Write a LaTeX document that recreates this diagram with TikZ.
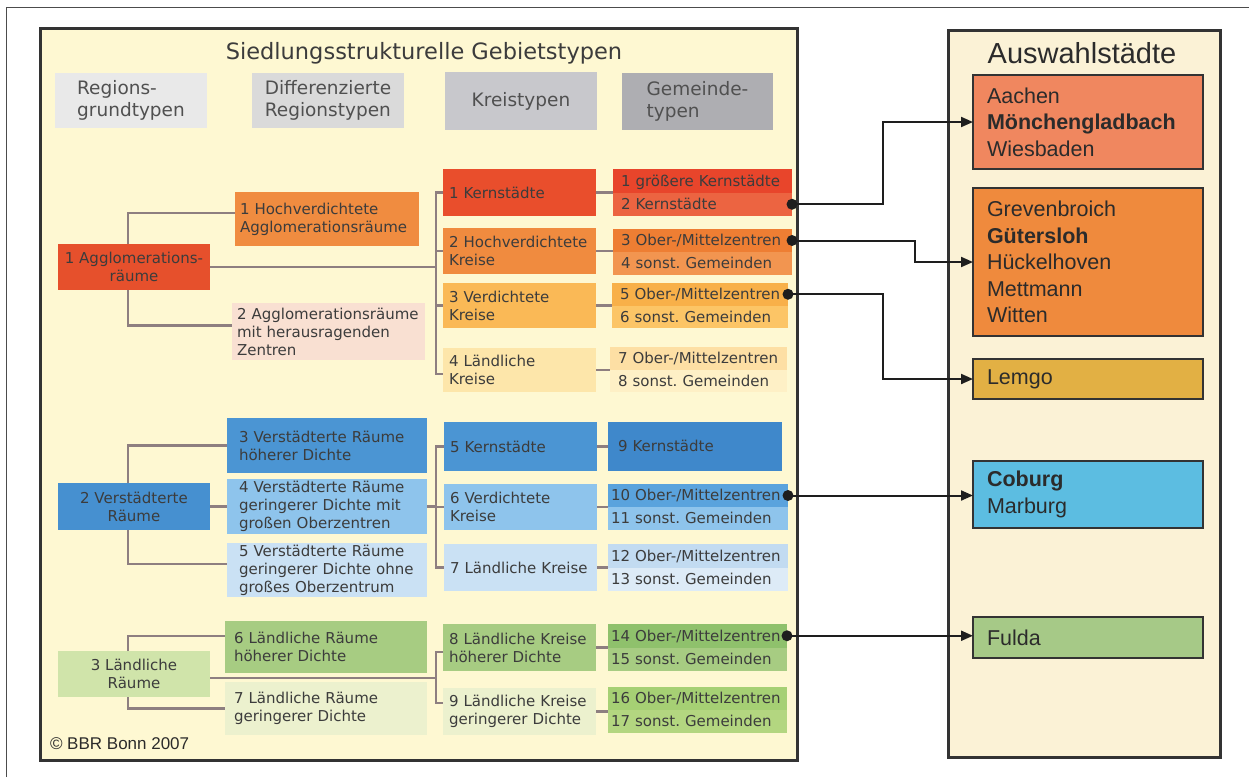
\documentclass[tikz,border=0pt]{standalone}
\usepackage{fontspec}
\newfontfamily\lf{DejaVu Sans}
\newfontfamily\rf{Liberation Sans}
\usetikzlibrary{arrows.meta,calc}
\definecolor{panL}{HTML}{FEF8D2}
\definecolor{panR}{HTML}{FBF2D6}
\definecolor{frameC}{HTML}{333333}
\definecolor{txtL}{HTML}{3C3C3C}
\definecolor{txtR}{HTML}{2B2B2B}
\definecolor{hdrT}{HTML}{505050}
\definecolor{lnC}{HTML}{8E7F80}
\definecolor{arC}{HTML}{1E1E1E}
\definecolor{h1}{HTML}{E9E9E9}
\definecolor{h2}{HTML}{DADADA}
\definecolor{h3}{HTML}{C8C8CC}
\definecolor{h4}{HTML}{AEAEB2}
\definecolor{cA1}{HTML}{E6502C}
\definecolor{cR1}{HTML}{F08C40}
\definecolor{cR2}{HTML}{F9E0D2}
\definecolor{cK1}{HTML}{E94E2C}
\definecolor{cG1a}{HTML}{E8452B}
\definecolor{cG1b}{HTML}{EC6441}
\definecolor{cK2}{HTML}{F08B3F}
\definecolor{cG2a}{HTML}{EE7E33}
\definecolor{cG2b}{HTML}{F29550}
\definecolor{cK3}{HTML}{FAB956}
\definecolor{cG3a}{HTML}{F8B049}
\definecolor{cG3b}{HTML}{FCC566}
\definecolor{cK4}{HTML}{FDE6AA}
\definecolor{cG4a}{HTML}{FDDFA4}
\definecolor{cG4b}{HTML}{FEF0C6}
\definecolor{cA2}{HTML}{4690D0}
\definecolor{cB1}{HTML}{4B95D3}
\definecolor{cG9}{HTML}{3F88CB}
\definecolor{cB2}{HTML}{8EC4EC}
\definecolor{cG10a}{HTML}{5AA3DD}
\definecolor{cB3}{HTML}{CAE1F4}
\definecolor{cG12a}{HTML}{C2DBF1}
\definecolor{cG12b}{HTML}{DDEBF7}
\definecolor{cA3}{HTML}{D0E4AA}
\definecolor{cV1}{HTML}{A7CC82}
\definecolor{cV2}{HTML}{ECF1CE}
\definecolor{cG14a}{HTML}{8FC16C}
\definecolor{cG16a}{HTML}{A6D074}
\definecolor{cG16b}{HTML}{B3D680}
\definecolor{cAach}{HTML}{F0875F}
\definecolor{cGrev}{HTML}{EF8A3D}
\definecolor{cLem}{HTML}{E2B044}
\definecolor{cCob}{HTML}{5CBDE1}
\definecolor{cFul}{HTML}{A6C987}
\begin{document}
\frenchspacing
\begin{tikzpicture}[x=1pt,y=-1pt,
  every node/.style={inner sep=0pt, outer sep=0pt},
  lb/.style={anchor=north west, inner ysep=0pt, align=left, text=txtL,
    font=\lf\fontsize{15}{18}\selectfont},
  stripe/.style={lb, text height=12pt, text depth=1.5pt},
  cb/.style={anchor=north west, align=center, text=txtL,
    font=\lf\fontsize{15}{18}\selectfont, minimum width=152pt},
  hdr/.style={anchor=north west, align=left, text=hdrT,
    font=\lf\fontsize{18.5}{21.5}\selectfont, minimum width=152pt},
  rb/.style={anchor=north west, inner ysep=0pt, inner xsep=14pt, text width=202pt,
    align=left, text=txtR, font=\rf\fontsize{21.5}{26.5}\selectfont,
    draw=frameC, line width=2.5pt},
  conn/.style={draw=lnC, line width=2.3pt},
  arr/.style={draw=arC, line width=2pt, -{Triangle[length=12pt,width=10pt]}},
  dotc/.style={fill=arC}
]
\useasboundingbox (0,0) rectangle (1249,777);
\fill[white] (0,0) rectangle (1249,777);
\draw[gray!60!black, line width=0.8pt] (6,777) -- (6,7) -- (1249,7);

% panels
\draw[fill=panL, draw=frameC, line width=3pt] (40,28) rectangle (797,760);
\draw[fill=panR, draw=frameC, line width=3pt] (948,30) rectangle (1220,757);

% titles
\node[text=txtL, font=\lf\fontsize{22.5}{26}\selectfont] (title) at (424,53) {Siedlungsstrukturelle Gebietstypen};
\node[text=txtR, font=\rf\fontsize{29}{34}\selectfont] (titleR) at (1082,53) {Auswahlstädte};

% headers
\node[hdr, fill=h1, minimum height=55pt] (hd1) at (55,73) {Regions-\\grundtypen};
\node[hdr, fill=h2, minimum height=55pt] (hd2) at (252,73) {Differenzierte\\Regionstypen};
\node[hdr, fill=h3, minimum height=58pt, minimum width=152pt] (hd3) at (445,72) {Kreistypen};
\node[hdr, fill=h4, minimum height=57pt, minimum width=151pt] (hd4) at (622,73) {Gemeinde-\\typen};

% column 1
\node[cb, fill=cA1, minimum height=46pt] (a1) at (58,244) {1 Agglomerations-\\räume};
\node[cb, fill=cA2, minimum height=47pt] (a2) at (58,483) {2 Verstädterte\\Räume};
\node[cb, fill=cA3, minimum height=46pt] (a3) at (58,651) {3 Ländliche\\Räume};

% column 2
\node[lb, fill=cR1, inner xsep=5pt, text width=174pt, minimum height=54pt] (r1) at (235,192) {1 Hochverdichtete\\Agglomerationsräume};
\node[lb, fill=cR2, inner xsep=5pt, text width=183pt, minimum height=57pt] (r2) at (232,303) {\mbox{2 Agglomerationsräume}\\mit herausragenden\\Zentren};
\node[lb, fill=cB1, inner xsep=12pt, text width=176pt, minimum height=55pt] (r3) at (227,418) {3 Verstädterte Räume\\höherer Dichte};
\node[lb, fill=cB2, inner xsep=12pt, text width=176pt, minimum height=55pt] (r4) at (227,479) {4 Verstädterte Räume\\\mbox{geringerer Dichte mit}\\großen Oberzentren};
\node[lb, fill=cB3, inner xsep=12pt, text width=176pt, minimum height=54pt] (r5) at (227,543) {5 Verstädterte Räume\\\mbox{geringerer Dichte ohne}\\großes Oberzentrum};
\node[lb, fill=cV1, inner xsep=9pt, text width=184pt, minimum height=52pt] (r6) at (225,621) {6 Ländliche Räume\\höherer Dichte};
\node[lb, fill=cV2, inner xsep=9pt, text width=184pt, minimum height=53pt] (r7) at (225,682) {7 Ländliche Räume\\geringerer Dichte};

% column 3
\node[lb, fill=cK1, inner xsep=6pt, text width=141pt, minimum height=47pt] (k1) at (443,169) {1 Kernstädte};
\node[lb, fill=cK2, inner xsep=6pt, text width=141pt, minimum height=46pt] (k2) at (443,228) {\mbox{2 Hochverdichtete}\\Kreise};
\node[lb, fill=cK3, inner xsep=6pt, text width=141pt, minimum height=45pt] (k3) at (443,283) {3 Verdichtete\\Kreise};
\node[lb, fill=cK4, inner xsep=6pt, text width=141pt, minimum height=44pt] (k4) at (443,348) {4 Ländliche\\Kreise};
\node[lb, fill=cB1, inner xsep=6pt, text width=141pt, minimum height=49pt] (k5) at (444,422) {5 Kernstädte};
\node[lb, fill=cB2, inner xsep=6pt, text width=141pt, minimum height=46pt] (k6) at (444,484) {6 Verdichtete\\Kreise};
\node[lb, fill=cB3, inner xsep=6pt, text width=141pt, minimum height=47pt] (k7) at (444,544) {\mbox{7 Ländliche Kreise}};
\node[lb, fill=cV1, inner xsep=6pt, text width=141pt, minimum height=47pt] (k8) at (443,624) {\mbox{8 Ländliche Kreise}\\höherer Dichte};
\node[lb, fill=cV2, inner xsep=6pt, text width=141pt, minimum height=47pt] (k9) at (443,688) {\mbox{9 Ländliche Kreise}\\geringerer Dichte};

% column 4
\node[stripe, fill=cG1a, inner xsep=8pt, text width=163pt, minimum height=23.5pt] (g1a) at (613,169) {\mbox{1 größere Kernstädte}};
\node[stripe, fill=cG1b, inner xsep=8pt, text width=163pt, minimum height=23.5pt] (g1b) at (613,192.5) {2 Kernstädte};
\node[stripe, fill=cG2a, inner xsep=8pt, text width=163pt, minimum height=23pt] (g2a) at (613,229) {\mbox{3 Ober-/Mittelzentren}};
\node[stripe, fill=cG2b, inner xsep=8pt, text width=163pt, minimum height=23pt] (g2b) at (613,252) {\mbox{4 sonst. Gemeinden}};
\node[stripe, fill=cG3a, inner xsep=8pt, text width=160pt, minimum height=22.5pt] (g3a) at (612,283) {\mbox{5 Ober-/Mittelzentren}};
\node[stripe, fill=cG3b, inner xsep=8pt, text width=160pt, minimum height=22.5pt] (g3b) at (612,305.5) {\mbox{6 sonst. Gemeinden}};
\node[stripe, fill=cG4a, inner xsep=8pt, text width=161pt, minimum height=22.5pt] (g4a) at (610,347) {\mbox{7 Ober-/Mittelzentren}};
\node[stripe, fill=cG4b, inner xsep=8pt, text width=161pt, minimum height=22.5pt] (g4b) at (610,369.5) {\mbox{8 sonst. Gemeinden}};
\node[stripe, fill=cG9, inner xsep=10pt, text width=154pt, minimum height=49pt] (g9) at (608,422) {9 Kernstädte};
\node[stripe, fill=cG10a, inner xsep=3pt, text width=174pt, minimum height=23pt] (g10a) at (608,484) {\mbox{10 Ober-/Mittelzentren}};
\node[stripe, fill=cB2, inner xsep=3pt, text width=174pt, minimum height=23pt] (g10b) at (608,507) {\mbox{11 sonst. Gemeinden}};
\node[stripe, fill=cG12a, inner xsep=3pt, text width=174pt, minimum height=23.5pt] (g12a) at (608,544) {\mbox{12 Ober-/Mittelzentren}};
\node[stripe, fill=cG12b, inner xsep=3pt, text width=174pt, minimum height=23.5pt] (g12b) at (608,567.5) {\mbox{13 sonst. Gemeinden}};
\node[stripe, fill=cG14a, inner xsep=3pt, text width=173pt, minimum height=23.5pt] (g14a) at (608,624) {\mbox{14 Ober-/Mittelzentren}};
\node[stripe, fill=cV1, inner xsep=3pt, text width=173pt, minimum height=23.5pt] (g14b) at (608,647.5) {\mbox{15 sonst. Gemeinden}};
\node[stripe, fill=cG16a, inner xsep=3pt, text width=173pt, minimum height=23pt] (g16a) at (608,687) {\mbox{16 Ober-/Mittelzentren}};
\node[stripe, fill=cG16b, inner xsep=3pt, text width=173pt, minimum height=23pt] (g16b) at (608,710) {\mbox{17 sonst. Gemeinden}};

% right boxes
\node[rb, fill=cAach, minimum height=94pt] (aachen) at (973,75) {Aachen\\\textbf{Mönchengladbach}\\Wiesbaden};
\node[rb, fill=cGrev, minimum height=148pt] (grev) at (973,188) {Grevenbroich\\\textbf{Gütersloh}\\Hückelhoven\\Mettmann\\Witten};
\node[rb, fill=cLem, minimum height=40pt] (lemgo) at (973,359) {Lemgo};
\node[rb, fill=cCob, minimum height=67pt] (coburg) at (973,461) {\textbf{Coburg}\\Marburg};
\node[rb, fill=cFul, minimum height=41pt] (fulda) at (973,617) {Fulda};

% copyright
\node[anchor=west, text=txtR, font=\rf\fontsize{17}{20}\selectfont] (copy) at (50,744) {© BBR Bonn 2007};

% connectors group 1
\draw[conn] ([xshift=-6pt]a1.north) |- ([yshift=6pt]r1.west);
\draw[conn] ([xshift=-6pt]a1.south) |- ([yshift=6pt]r2.west);
\coordinate (b1) at ([xshift=-7pt]k1.west);
\draw[conn] (a1.east) -- (a1.east -| b1);
\draw[conn] (k1.west) -- ++(-7,0) |- ([yshift=-4pt]k4.west);
\draw[conn] (k2.west) -- ++(-7,0);
\draw[conn] (k3.west) -- ++(-7,0);
\draw[conn] (k1.east) -- (k1.east -| g1a.west);
\draw[conn] (k2.east) -- (k2.east -| g2a.west);
\draw[conn] (k3.east) -- (k3.east -| g3a.west);
\draw[conn] (k4.east) -- (k4.east -| g4a.west);

% connectors group 2
\draw[conn] ([xshift=-6pt]a2.north) |- (r3.west);
\draw[conn] ([xshift=-6pt]a2.south) |- ([yshift=6pt]r5.west);
\draw[conn] (a2.east) -- (a2.east -| r4.west);
\coordinate (b2) at ([xshift=-8pt]k6.west);
\draw[conn] (r4.east) -- (r4.east -| b2);
\draw[conn] (k5.west) -- ++(-8,0) |- (k7.west);
\draw[conn] (k6.west) -- ++(-8,0);
\draw[conn] (k5.east) -- (k5.east -| g9.west);
\draw[conn] (k6.east) -- (k6.east -| g10a.west);
\draw[conn] (k7.east) -- (k7.east -| g12a.west);

% connectors group 3
\draw[conn] ([xshift=-6pt]a3.north) |- ([yshift=11pt]r6.west);
\draw[conn] ([xshift=-6pt]a3.south) |- (r7.west);
\coordinate (b3) at ([xshift=-7pt]k8.west);
\coordinate (a3e) at ($(a3.east)+(0,4)$);
\draw[conn] (a3e) -- (a3e -| b3);
\draw[conn] ([yshift=-4.5pt]k8.west) -- ++(-7,0) |- ([yshift=8.5pt]k9.west);
\draw[conn] (k8.east) -- (k8.east -| g14a.west);
\draw[conn] (k9.east) -- (k9.east -| g16a.west);

% arrows to selected cities
\draw[arr] (g1b.east) -- ++(91,0) |- (aachen.west);
\draw[arr] (g2a.east) -- ++(123,0) |- (grev.west);
\draw[arr] (g3a.east) -- ++(95,0) |- (lemgo.west);
\draw[arr] (g10a.east) -- (g10a.east -| coburg.west);
\draw[arr] (g14a.east) -- (g14a.east -| fulda.west);
\fill[dotc] (g1b.east) circle (5.5pt);
\fill[dotc] (g2a.east) circle (5.5pt);
\fill[dotc] (g3a.east) circle (5.5pt);
\fill[dotc] (g10a.east) circle (5.5pt);
\fill[dotc] (g14a.east) circle (5.5pt);
\end{tikzpicture}
\end{document}
